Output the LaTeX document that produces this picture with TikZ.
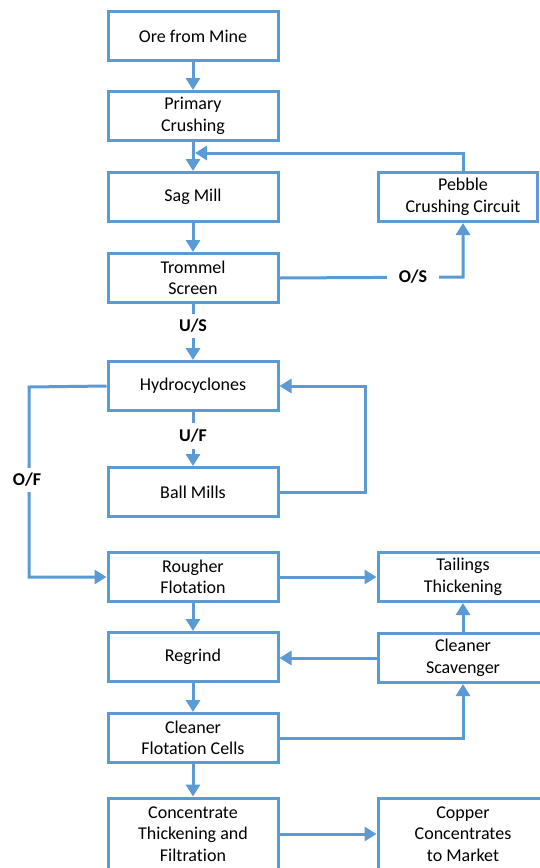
\documentclass[tikz,border=0pt]{standalone}
\usepackage{fontspec}
\setmainfont[Ligatures=NoCommon]{Carlito}
\usetikzlibrary{arrows.meta,calc}
\definecolor{bl}{HTML}{5B9BD5}
\begin{document}
\begin{tikzpicture}[x=1pt,y=-1pt,
  box/.style={draw=bl, line width=3pt, minimum width=170pt, minimum height=49pt,
    align=center, font=\fontsize{18}{21.6}\selectfont, inner sep=2pt, text=black},
  arr/.style={draw=bl, line width=3pt, -{Triangle[width=14pt,length=12pt]}},
  ln/.style={draw=bl, line width=3pt},
  lbl/.style={fill=white, font=\bfseries\fontsize{18}{21.6}\selectfont, text=black}]
\useasboundingbox (0,0) rectangle (540,868);
\clip (0,0) rectangle (540,868);
\fill[white] (0,0) rectangle (540,868);
% left column
\node[box] (ore)  at (193,36)  {Ore from Mine};
\node[box] (prim) at (193,116) {Primary\\Crushing};
\node[box] (sag)  at (193,197) {Sag Mill};
\node[box] (trom) at (193,278) {Trommel\\Screen};
\node[box] (hyd)  at (193,386) {Hydrocyclones};
\node[box] (ball) at (193,492) {Ball Mills};
\node[box] (roug) at (193,577) {Rougher\\Flotation};
\node[box] (regr) at (193,657) {Regrind};
\node[box] (clfl) at (193,738) {Cleaner\\Flotation Cells};
\node[box, minimum height=72pt] (conc) at (193,834) {Concentrate\\Thickening and\\Filtration};
% right column
\node[box, minimum width=159pt] (peb) at (458,197) {\hspace*{10pt}Pebble\\\hspace*{10pt}Crushing Circuit};
\node[box] (tail) at (463,577) {Tailings\\Thickening};
\node[box] (scav) at (463,658) {Cleaner\\Scavenger};
\node[box, minimum height=72pt] (copp) at (463,834) {Copper\\Concentrates\\to Market};
% helper coordinates
\coordinate (join) at (195,153);
\coordinate (osx) at (463,277);
\coordinate (bmr) at (365,492);
\coordinate (ofx) at (29,387);
% connectors
\draw[arr] (ore) -- (prim);
\draw[arr] (prim) -- (sag);
\draw[arr] (peb.north -| osx) |- (join);
\draw[arr] (sag) -- (trom);
\draw[arr] (trom.east) -- (osx) -- (peb.south -| osx);
\draw[arr] (trom) -- (hyd);
\draw[arr] (hyd) -- (ball);
\draw[arr] (ball.east) -- (bmr) |- (hyd.east);
\draw[arr] (hyd.west) -- (ofx) |- (roug.west);
\draw[arr] (roug.east) -- (tail.west);
\draw[arr] (roug) -- (regr);
\draw[arr] (scav) -- (tail);
\draw[arr] (scav.west) -- (regr.east |- scav.west);
\draw[arr] (regr) -- (clfl);
\draw[arr] (clfl.east) -| (scav.south);
\draw[arr] (clfl) -- (conc);
\draw[arr] (conc.east) -- (copp.west);
% labels
\node[lbl, inner xsep=12pt, inner ysep=2pt] (os) at (413,277) {O/S};
\node[lbl, inner xsep=4pt, inner ysep=5pt] (us) at (193,326) {U/S};
\node[lbl, inner xsep=4pt, inner ysep=6pt] (uf) at (193,436) {U/F};
\node[lbl, inner xsep=4pt, inner ysep=5pt] (of) at (27,480) {O/F};
\end{tikzpicture}
\end{document}
